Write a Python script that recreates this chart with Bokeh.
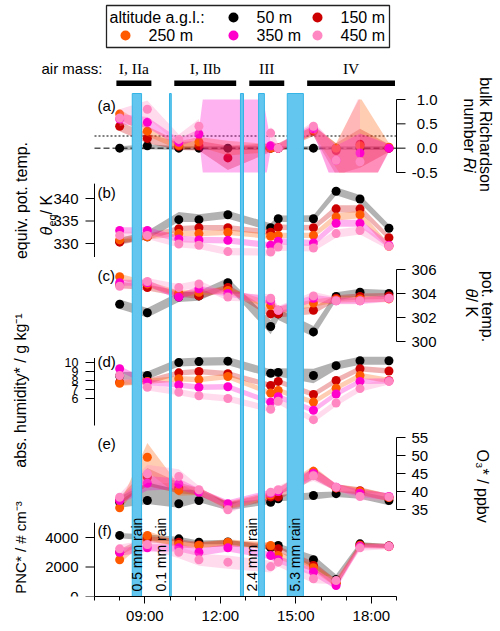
import numpy as np
from bokeh.plotting import figure
from bokeh.models import Range1d, FixedTicker
from bokeh.core.properties import value
from bokeh.embed import file_html
from bokeh.resources import INLINE

# ---------------------------------------------------------------- data
# flight times (decimal hours, local time)
times = [8.0, 9.1, 10.35, 11.15, 12.3, 14.0, 14.3, 15.7, 16.6, 17.55, 18.7]

altitudes = ["50 m", "150 m", "250 m", "350 m", "450 m"]
colors = ["#000000", "#CC0000", "#FF5A00", "#FF00CC", "#FF88C2"]

# (a) bulk Richardson number, with band limits
ri_50 = [0.0, 0.05, 0.0, 0.0, 0.0, 0.0, 0.0, 0.0, 0.0, 0.0, 0.0]
ri_50_lo = [-0.05, -0.02, -0.04, -0.04, -0.04, -0.04, -0.04, -0.04, -0.04, -0.04, -0.04]
ri_50_hi = [0.04, 0.08, 0.04, 0.04, 0.04, 0.04, 0.04, 0.04, 0.04, 0.04, 0.04]
ri_150 = [0.45, 0.2, 0.04, 0.05, -0.2, 0.0, 0.0, 0.35, -0.05, 0.08, 0.0]
ri_150_lo = [0.35, 0.1, -0.04, -0.05, -0.45, -0.08, -0.08, 0.25, -0.55, -0.4, -0.08]
ri_150_hi = [0.55, 0.3, 0.12, 0.15, 0.05, 0.1, 0.1, 0.45, 0.1, 0.4, 0.08]
ri_250 = [0.7, 0.35, 0.06, 0.13, None, 0.0, 0.0, 0.37, 0.0, 0.05, 0.02]
ri_250_lo = [0.6, 0.25, -0.03, 0.03, -0.15, -0.08, -0.08, 0.28, -0.4, -1.2, -0.06]
ri_250_hi = [0.8, 0.45, 0.14, 0.23, 0.15, 0.08, 0.08, 0.46, 0.1, 1.05, 0.1]
ri_350 = [0.6, 0.53, 0.12, 0.29, None, 0.05, 0.0, 0.4, -0.25, -0.1, 0.0]
ri_350_lo = [0.5, 0.42, 0.04, 0.19, -5.0, -0.05, -0.08, 0.3, -0.9, -1.2, -0.08]
ri_350_hi = [0.7, 0.64, 0.2, 0.39, 5.0, 0.15, 0.08, 0.5, 0.05, 0.3, 0.08]
ri_450 = [0.62, 0.8, 0.18, 0.45, None, 0.31, 0.0, 0.45, -0.25, -0.28, None]
ri_450_lo = [0.45, 0.62, 0.08, 0.3, None, 0.18, -0.08, 0.35, -0.9, -0.6, None]
ri_450_hi = [0.8, 0.98, 0.28, 0.6, None, 0.45, 0.08, 0.55, 0.05, 1.1, None]

# (b) equivalent potential temperature / K
eq_50 = [330.5, 331.5, 335.3, 335.3, 336.4, 333.5, 335.5, 335.5, 341.6, 339.9, 333.4]
eq_50_lo = [329.9, 331.0, 334.8, 334.8, 335.5, 332.8, 334.8, 334.8, 340.7, 339.0, 332.6]
eq_50_hi = [331.2, 332.8, 337.0, 336.5, 337.3, 334.5, 336.2, 336.3, 342.5, 340.8, 334.2]
eq_150 = [330.3, 331.5, 333.3, 333.5, 333.5, 332.5, 333.6, 333.5, 337.7, 337.7, 331.3]
eq_150_sp = [0.6, 0.6, 0.6, 0.6, 0.6, 0.6, 0.6, 0.6, 0.8, 0.8, 0.6]
eq_250 = [330.8, 331.5, 332.2, 332.2, 332.5, 331.6, 331.8, 331.8, 335.9, 336.4, 329.4]
eq_250_sp = [0.6, 0.6, 0.6, 0.6, 0.6, 0.6, 0.6, 0.6, 0.8, 0.8, 0.6]
eq_350 = [332.9, 332.9, 331.0, 330.8, 330.7, 329.6, 330.5, 330.1, 334.5, 334.5, 329.6]
eq_350_sp = [0.7, 0.7, 0.7, 0.7, 0.7, 0.7, 0.7, 0.7, 0.8, 0.8, 0.7]
eq_450 = [331.8, 331.8, 329.9, 329.6, 328.2, 328.1, 329.2, 329.0, 332.2, 332.9, 329.4]
eq_450_sp = [0.8, 0.8, 0.8, 0.8, 0.8, 0.8, 0.8, 0.8, 0.9, 0.9, 0.8]

# (c) potential temperature / K
th_50 = [303.1, 302.4, 303.7, 303.8, 304.9, 301.25, 302.3, 300.8, 303.75, 304.1, 304.0]
th_50_lo = [302.7, 302.0, 303.3, 303.4, 304.5, 300.6, 301.8, 300.4, 303.4, 303.8, 303.7]
th_50_hi = [303.5, 302.8, 304.1, 304.2, 305.3, 301.8, 302.7, 301.3, 304.1, 304.4, 304.3]
th_150 = [304.7, 304.5, 304.0, 303.8, 304.5, 302.3, 302.3, 302.6, 303.6, 303.75, 303.8]
th_150_sp = [0.25, 0.25, 0.25, 0.25, 0.25, 0.3, 0.3, 0.3, 0.25, 0.25, 0.25]
th_250 = [305.4, 304.8, 304.0, 304.1, 304.25, 303.0, 302.6, 303.2, 303.5, 303.55, 303.55]
th_250_sp = [0.25, 0.25, 0.25, 0.25, 0.25, 0.3, 0.3, 0.3, 0.25, 0.25, 0.25]
th_350 = [304.9, 304.9, 303.7, 304.4, 304.0, 303.4, 302.6, 303.6, 303.4, 303.4, 303.6]
th_350_sp = [0.25, 0.25, 0.25, 0.25, 0.25, 0.3, 0.3, 0.3, 0.25, 0.25, 0.25]
th_450 = [304.6, 305.0, 304.5, 304.8, 303.7, 303.6, 302.6, 303.8, 303.4, 303.4, 303.6]
th_450_sp = [0.3, 0.3, 0.3, 0.3, 0.3, 0.35, 0.35, 0.35, 0.3, 0.3, 0.3]

# (d) absolute humidity / g kg-1
q_50 = [8.5, 8.55, 10.0, 10.1, 10.15, 8.8, 8.9, 8.55, 9.65, 10.2, 10.2]
q_50_lo = [8.1, 8.1, 9.55, 9.65, 9.7, 8.35, 8.45, 7.7, 9.2, 9.75, 9.75]
q_50_hi = [8.95, 9.0, 10.45, 10.55, 10.6, 9.25, 9.35, 9.3, 10.1, 10.65, 10.65]
q_150 = [7.8, 7.9, 8.85, 9.0, 8.75, 7.45, 7.9, 6.45, 8.0, 9.3, 9.05]
q_150_sp = [0.3, 0.3, 0.3, 0.3, 0.3, 0.3, 0.3, 0.3, 0.3, 0.3, 0.3]
q_250 = [7.7, 7.9, 8.2, 8.1, 8.45, 6.6, 6.9, 5.6, 7.15, 8.55, 8.0]
q_250_sp = [0.3, 0.3, 0.3, 0.3, 0.3, 0.3, 0.3, 0.3, 0.3, 0.3, 0.3]
q_350 = [9.3, 7.8, 7.5, 7.25, 7.3, 5.6, 6.2, 4.7, 6.5, 7.9, 7.95]
q_350_sp = [0.3, 0.3, 0.3, 0.3, 0.3, 0.3, 0.3, 0.3, 0.3, 0.3, 0.3]
q_450 = [8.55, 7.25, 6.7, 6.3, 6.0, 4.8, 5.7, 3.65, 5.5, 7.1, 7.9]
q_450_sp = [0.35, 0.35, 0.35, 0.35, 0.35, 0.35, 0.35, 0.35, 0.35, 0.35, 0.35]

# (e) ozone / ppbv
o3_50 = [37.0, 37.5, 36.6, 37.5, 36.0, 37.0, 38.0, 38.9, 39.4, 39.5, 37.5]
o3_50_lo = [35.5, 36.5, 35.5, 37.0, 34.8, 36.5, 37.3, 37.8, 38.5, 38.0, 36.2]
o3_50_hi = [38.5, 42.5, 40.5, 40.5, 37.0, 38.0, 39.0, 39.8, 40.0, 40.0, 38.3]
o3_150 = [37.5, 44.0, 41.0, 40.0, 36.0, 38.5, 38.5, 45.0, 41.0, 40.2, 38.3]
o3_150_sp = [1.0, 2.5, 1.5, 1.0, 1.0, 1.0, 1.0, 1.5, 1.0, 1.0, 1.0]
o3_250 = [35.5, 49.5, 40.3, 40.0, 36.2, 39.0, 40.0, 45.6, 41.0, 40.0, 38.3]
o3_250_sp = [1.0, 4.0, 1.5, 1.0, 1.0, 1.0, 1.0, 1.5, 1.0, 1.0, 1.0]
o3_350 = [37.5, 42.3, 42.1, 39.8, 36.6, 39.5, 40.0, 45.0, 41.2, 39.5, 38.6]
o3_350_sp = [1.0, 2.0, 1.5, 1.0, 1.0, 1.0, 1.0, 1.5, 1.0, 1.0, 1.0]
o3_450 = [38.4, 44.9, 44.2, 40.5, 34.9, 39.8, 40.5, 44.4, 41.2, 38.6, 38.5]
o3_450_sp = [1.0, 2.5, 2.0, 1.0, 1.0, 1.0, 1.0, 1.5, 1.0, 1.0, 1.0]

# (f) particle number concentration / cm-3
pnc_50 = [4140, 4000, 3910, 3680, 3700, 3300, 3460, 2490, 1150, 3570, 3420]
pnc_50_lo = [3950, 3800, 3750, 3550, 3550, 3150, 3300, 1950, 950, 3400, 3300]
pnc_50_hi = [4300, 4200, 4050, 3800, 3850, 3450, 3600, 2800, 1500, 3700, 3550]
pnc_150 = [3000, 3900, 3680, 3500, 3600, 3400, 3230, 2100, 900, 3500, 3420]
pnc_150_sp = [200, 200, 200, 200, 200, 200, 200, 250, 250, 150, 150]
pnc_250 = [2490, 4140, 3525, 3460, 3680, 3460, 2780, 1950, 900, 3450, 3380]
pnc_250_sp = [250, 300, 200, 200, 200, 200, 250, 250, 250, 150, 150]
pnc_350 = [3000, 3300, 3300, 3000, 3300, 2780, 2500, 1660, 740, 3400, 3400]
pnc_350_sp = [250, 250, 250, 250, 250, 250, 250, 250, 250, 150, 150]
pnc_450 = [3230, 3525, 3000, 2490, 2330, 2030, 2330, 1200, 1080, 3300, 3400]
pnc_450_sp = [300, 300, 400, 400, 450, 400, 300, 300, 250, 200, 200]

# rain periods (decimal hours)
rain_start = [8.5, 9.98, 12.8, 13.52, 14.66]
rain_end = [8.87, 10.05, 12.92, 13.75, 15.3]
rain_events = [(0, 0, "0.5 mm rain"), (1, 1, "0.1 mm rain"),
               (2, 3, "2.4 mm rain"), (4, 4, "5.3 mm rain")]

# air-mass classification periods
air_start = [7.87, 10.17, 13.15, 15.45]
air_end = [9.26, 12.63, 14.54, 18.94]
air_names = ["I, IIa", "I, IIb", "III", "IV"]

# panel axes: tick values and labels
ri_ticks, ri_labels = [-0.5, 0.0, 0.5, 1.0], ["-0.5", "0.0", "0.5", "1.0"]
eq_ticks, eq_labels = [330, 335, 340], ["330", "335", "340"]
th_ticks, th_labels = [300, 302, 304, 306], ["300", "302", "304", "306"]
q_ticks, q_labels = [6, 7, 8, 9, 10], ["6", "7", "8", "9", "10"]
o3_ticks, o3_labels = [35, 40, 45, 50, 55], ["35", "40", "45", "50", "55"]
pnc_ticks, pnc_labels = [0, 2000, 4000], ["0", "2000", "4000"]
hour_ticks = [9, 12, 15, 18]
hour_labels = ["09:00", "12:00", "15:00", "18:00"]

# ---------------------------------------------------------------- layout
FONT = "Liberation Sans"
SERIF = "Liberation Serif"
W, H = 500, 631
FRAME_H = 596                  # frame height, the time axis sits below
T0, T1 = 7.0, 19.0
X0_PX, X1_PX = 94.0, 396.0     # pixel columns of 07:00 and 19:00
PX_PER_H = (X1_PX - X0_PX) / (T1 - T0)
BAND_ALPHA = 0.3

p = figure(width=W, height=H, output_backend="svg", toolbar_location=None,
           x_range=Range1d(T0 - X0_PX / PX_PER_H, T1 + (W - X1_PX) / PX_PER_H),
           y_range=Range1d(FRAME_H, 0), y_axis_location=None,
           min_border_left=0, min_border_right=0, min_border_top=0,
           min_border_bottom=H - FRAME_H)
p.extra_x_ranges = {"px": Range1d(0, W)}
p.grid.visible = False
p.outline_line_color = None
p.background_fill_color = "white"
p.border_fill_color = "white"


def panel_range(v_lo, y_lo, v_hi, y_hi):
    k = (y_lo - y_hi) / (v_hi - v_lo)
    return Range1d(v_lo - (FRAME_H - y_lo) / k, v_hi + y_hi / k)


def spread(vals, sp):
    lo = [None if v is None else v - s for v, s in zip(vals, sp)]
    hi = [None if v is None else v + s for v, s in zip(vals, sp)]
    return vals, lo, hi


panels = [
    dict(name="a", anchor=(-0.5, 172.0, 1.0, 99.0), bounds=(-0.5, 1.0), side="right",
         ticks=ri_ticks, labels=ri_labels, tag="(a)", tag_y=105, clip=(-0.5, 1.0),
         series=[(ri_50, ri_50_lo, ri_50_hi), (ri_150, ri_150_lo, ri_150_hi),
                 (ri_250, ri_250_lo, ri_250_hi), (ri_350, ri_350_lo, ri_350_hi),
                 (ri_450, ri_450_lo, ri_450_hi)]),
    dict(name="b", anchor=(330.0, 243.0, 340.0, 198.0), bounds=(327.0, 343.3), side="left",
         ticks=eq_ticks, labels=eq_labels, tag="(b)", tag_y=192, clip=None,
         series=[(eq_50, eq_50_lo, eq_50_hi), spread(eq_150, eq_150_sp),
                 spread(eq_250, eq_250_sp), spread(eq_350, eq_350_sp),
                 spread(eq_450, eq_450_sp)]),
    dict(name="c", anchor=(300.0, 341.0, 306.0, 269.0), bounds=(300.0, 306.0), side="right",
         ticks=th_ticks, labels=th_labels, tag="(c)", tag_y=275, clip=None,
         series=[(th_50, th_50_lo, th_50_hi), spread(th_150, th_150_sp),
                 spread(th_250, th_250_sp), spread(th_350, th_350_sp),
                 spread(th_450, th_450_sp)]),
    dict(name="d", anchor=(6.0, 398.0, 10.0, 362.0), bounds=(3.0, 10.5), side="left",
         ticks=q_ticks, labels=q_labels, tag="(d)", tag_y=361, clip=None,
         series=[(q_50, q_50_lo, q_50_hi), spread(q_150, q_150_sp),
                 spread(q_250, q_250_sp), spread(q_350, q_350_sp),
                 spread(q_450, q_450_sp)]),
    dict(name="e", anchor=(35.0, 509.0, 55.0, 437.0), bounds=(35.0, 55.0), side="right",
         ticks=o3_ticks, labels=o3_labels, tag="(e)", tag_y=443, clip=None,
         series=[(o3_50, o3_50_lo, o3_50_hi), spread(o3_150, o3_150_sp),
                 spread(o3_250, o3_250_sp), spread(o3_350, o3_350_sp),
                 spread(o3_450, o3_450_sp)]),
    dict(name="f", anchor=(0.0, 596.0, 4000.0, 537.0), bounds=(0.0, 5000.0), side="left",
         ticks=pnc_ticks, labels=pnc_labels, tag="(f)", tag_y=530, clip=None,
         series=[(pnc_50, pnc_50_lo, pnc_50_hi), spread(pnc_150, pnc_150_sp),
                 spread(pnc_250, pnc_250_sp), spread(pnc_350, pnc_350_sp),
                 spread(pnc_450, pnc_450_sp)]),
]

p.extra_y_ranges = {pn["name"]: panel_range(*pn["anchor"]) for pn in panels}


def clip_polygon(pts, ymin, ymax):
    def clip(poly, inside, y0):
        out = []
        for i in range(len(poly)):
            cur, prev = poly[i], poly[i - 1]
            if inside(cur):
                if not inside(prev):
                    t = (y0 - prev[1]) / (cur[1] - prev[1])
                    out.append((prev[0] + t * (cur[0] - prev[0]), y0))
                out.append(cur)
            elif inside(prev):
                t = (y0 - prev[1]) / (cur[1] - prev[1])
                out.append((prev[0] + t * (cur[0] - prev[0]), y0))
        return out
    pts = clip(pts, lambda q: q[1] >= ymin, ymin)
    if pts:
        pts = clip(pts, lambda q: q[1] <= ymax, ymax)
    return pts


def band_polygons(lo, hi, clip_to):
    runs, cur = [], []
    for k in range(len(times)):
        if lo[k] is None or hi[k] is None:
            if len(cur) > 1:
                runs.append(cur)
            cur = []
        else:
            cur.append(k)
    if len(cur) > 1:
        runs.append(cur)
    xs_all, ys_all = [], []
    for run in runs:
        pts = [(times[k], hi[k]) for k in run] + [(times[k], lo[k]) for k in reversed(run)]
        if clip_to is not None:
            pts = clip_polygon(pts, *clip_to)
        if len(pts) > 2:
            xs_all.append([q[0] for q in pts])
            ys_all.append([q[1] for q in pts])
    return xs_all, ys_all


# ---------------------------------------------------------------- series
for pn in panels:
    name = pn["name"]
    if name == "a":
        # reference levels for the Richardson number
        p.segment(x0=[T0], y0=[0.25], x1=[T1], y1=[0.25], y_range_name="a",
                  line_color="black", line_width=1, line_dash="2 2")
        p.segment(x0=[T0], y0=[0.0], x1=[T1], y1=[0.0], y_range_name="a",
                  line_color="black", line_width=1, line_dash="6 3")
    for (vals, lo, hi), col in zip(pn["series"], colors):
        xs, ys = band_polygons(lo, hi, pn["clip"])
        if xs:
            p.patches(xs=xs, ys=ys, y_range_name=name, fill_color=col,
                      fill_alpha=BAND_ALPHA, line_color=None)
        yv = np.array([np.nan if v is None else v for v in vals], dtype=float)
        p.scatter(x=times, y=yv, y_range_name=name, size=9, marker="circle",
                  fill_color=col, line_color=None)

# ---------------------------------------------------------------- panel axes
TICK_H = 9.0 / PX_PER_H
for pn in panels:
    name = pn["name"]
    b0, b1 = pn["bounds"]
    xa = T0 if pn["side"] == "left" else T1
    sgn = -1 if pn["side"] == "left" else 1
    p.segment(x0=[xa], y0=[b0], x1=[xa], y1=[b1], y_range_name=name,
              line_color="black", line_width=1)
    p.segment(x0=[xa] * len(pn["ticks"]), y0=pn["ticks"],
              x1=[xa + sgn * TICK_H] * len(pn["ticks"]), y1=pn["ticks"],
              y_range_name=name, line_color="black", line_width=1)
    if pn["side"] == "left":
        align, off = "right", -16
    elif name == "a":
        align, off = "right", 41
    else:
        align, off = "left", 15
    p.text(x=[xa] * len(pn["ticks"]), y=pn["ticks"], text=pn["labels"],
           y_range_name=name, x_offset=off, text_align=align, text_baseline="middle",
           text_font=value(FONT), text_font_size="12.5px" if name == "d" else "15px",
           text_color="black")
    p.text(x=[97], y=[pn["tag_y"]], text=[pn["tag"]], x_range_name="px",
           text_align="left", text_baseline="middle", text_font=value(FONT),
           text_font_size="15px", text_color="black")

# ---------------------------------------------------------------- rain
p.quad(left=rain_start, right=rain_end, top=[93] * len(rain_start),
       bottom=[FRAME_H] * len(rain_start), fill_color="#62C6EE",
       line_color="#35B4E6", line_width=1)
for i0, i1, label in rain_events:
    narrow = rain_end[i1] - rain_start[i0] < 0.15
    lx = rain_start[i0] if narrow else 0.5 * (rain_start[i0] + rain_end[i1])
    p.text(x=[lx], y=[591], text=[label], angle=np.pi / 2, text_align="left",
           text_baseline="bottom" if narrow else "middle", text_font=value(FONT),
           text_font_size="14px", text_color="black")

# ---------------------------------------------------------------- air masses
p.quad(left=air_start, right=air_end, top=[80] * len(air_start),
       bottom=[85.5] * len(air_start), fill_color="black", line_color=None)
p.text(x=[0.5 * (a + b) for a, b in zip(air_start, air_end)], y=[68] * len(air_start),
       text=air_names, text_align="center", text_baseline="middle",
       text_font=value(SERIF), text_font_size="15.5px", text_color="black")
p.text(x=[41], y=[68], text=["air mass:"], x_range_name="px", text_align="left",
       text_baseline="middle", text_font=value(FONT), text_font_size="15px",
       text_color="black")

# ---------------------------------------------------------------- legend
p.quad(left=[106], right=[389], top=[5], bottom=[47], x_range_name="px",
       fill_color="white", line_color="#222222", line_width=1.3)
p.text(x=[109], y=[17], text=["altitude a.g.l.:"], x_range_name="px",
       text_align="left", text_baseline="middle", text_font=value(FONT),
       text_font_size="16px", text_color="black")
leg_x = [233, 317, 125, 233, 317]
leg_y = [17, 17, 35, 35, 35]
p.scatter(x=leg_x, y=leg_y, x_range_name="px", size=10, fill_color=colors,
          line_color=None)
p.text(x=[x + 23 for x in leg_x], y=leg_y, text=altitudes, x_range_name="px",
       text_align="left", text_baseline="middle", text_font=value(FONT),
       text_font_size="16px", text_color="black")

# ---------------------------------------------------------------- axis titles
def title(x, y, txt, angle, size, align="center", italic=False):
    p.text(x=[x], y=[y], text=[txt], x_range_name="px", angle=angle,
           text_align=align, text_baseline="middle", text_font=value(FONT),
           text_font_size=size, text_font_style="italic" if italic else "normal",
           text_color="black")

up, down = np.pi / 2, -np.pi / 2
title(21, 200, "equiv. pot. temp.", up, "16px")
title(46, 235, "θ", up, "16px", "left", italic=True)
title(51, 226, "eq", up, "11px", "left")
title(46, 214, " / K", up, "16px", "left")
title(20, 390, "abs. humidity* / g kg⁻¹", up, "16px")
title(20, 547, "PNC* / # cm⁻³", up, "15px")

title(485, 134, "bulk Richardson", down, "16px")
title(469, 98, "number ", down, "16px", "left")
title(469, 157, "Ri", down, "16px", "left", italic=True)
title(487, 306, "pot. temp.", down, "16px")
title(471, 288, "θ", down, "16px", "left", italic=True)
title(471, 297, " / K", down, "16px", "left")
title(482, 449, "O₃* / ppbv", down, "16px", "left")

# ---------------------------------------------------------------- time axis
ax = p.xaxis[0]
ax.ticker = FixedTicker(ticks=hour_ticks, minor_ticks=list(range(7, 20)))
ax.major_label_overrides = {t: s for t, s in zip(hour_ticks, hour_labels)}
ax.bounds = (T0, T1)
ax.major_tick_in = 0
ax.major_tick_out = 7
ax.minor_tick_in = 0
ax.minor_tick_out = 4
ax.major_label_standoff = 3
ax.major_label_text_font = FONT
ax.major_label_text_font_size = "15px"
ax.major_label_text_color = "black"
ax.axis_line_color = "black"
ax.major_tick_line_color = "black"
ax.minor_tick_line_color = "black"

open("out.html", "w").write(file_html(p, INLINE))
